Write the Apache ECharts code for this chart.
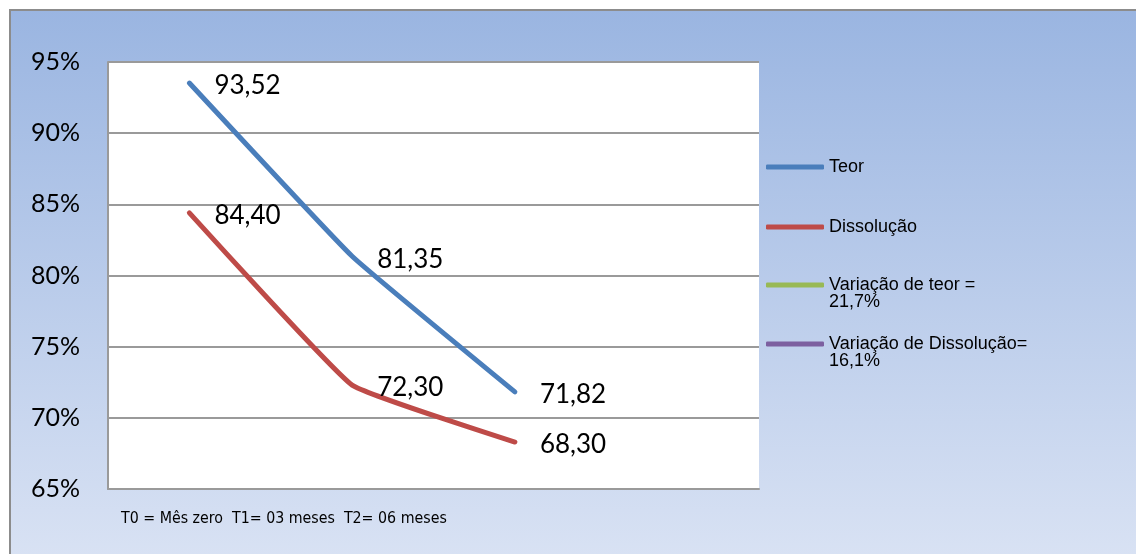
<!DOCTYPE html>
<html>
<head>
<meta charset="utf-8">
<script src="https://cdn.jsdelivr.net/npm/echarts@6/dist/echarts.min.js"></script>
<style>
  html, body { margin: 0; padding: 0; background: #fff; }
  #chart { width: 1136px; height: 554px; }
</style>
</head>
<body>
<div id="chart"></div>
<script>
// Stability study: content (Teor) and dissolution over time
const categories = ['T0', 'T1', 'T2', ''];
const teor = [93.52, 81.35, 71.82];
const dissolucao = [84.40, 72.30, 68.30];
const yTicks = { min: 65, max: 95, step: 5 };
const legendNames = ['Teor', 'Dissolução', 'Variação de teor =\n21,7%', 'Variação de Dissolução=\n16,1%'];
const timeNote = 'T0 = Mês zero  T1= 03 meses  T2= 06 meses';

const colors = ['#4A7EBB', '#BE4B48', '#98B954', '#7D60A0'];
const numFont = 'Lato, "Open Sans", sans-serif';

const chart = echarts.init(document.getElementById('chart'), null, { renderer: 'canvas' });

function fmt(v) { return v.toFixed(2).replace('.', ','); }

function lineSeries(name, values, color) {
  return {
    name: name,
    type: 'line',
    data: values,
    smooth: 0.1,
    symbol: 'circle',
    symbolSize: 2,
    showSymbol: true,
    itemStyle: { color: color },
    lineStyle: { color: color, width: 5, cap: 'round', join: 'round' },
    label: {
      show: true,
      position: 'right',
      distance: 24,
      offset: [0, 3],
      color: '#000',
      fontFamily: numFont,
      fontSize: 26,
      formatter: p => fmt(p.value)
    },
    emphasis: { disabled: true },
    animation: false
  };
}

// One legend block per entry; a leading blank line keeps the swatch
// level with the first line of two-line entries.
function legendAt(name, top, multiline) {
  return {
    data: [name],
    left: 766,
    top: top,
    padding: 0,
    orient: 'vertical',
    icon: 'roundRect',
    itemWidth: 58,
    itemHeight: 5,
    selectedMode: false,
    formatter: n => (multiline ? '\n' + n : n),
    textStyle: {
      color: '#000',
      fontFamily: '"Liberation Sans", Arial, sans-serif',
      fontSize: 18,
      lineHeight: 17
    }
  };
}

const option = {
  animation: false,
  color: colors,
  graphic: [{
    type: 'rect',
    z: -100,
    silent: true,
    shape: { x: 10, y: 10, width: 1140, height: 560 },
    style: {
      fill: new echarts.graphic.LinearGradient(0, 0, 0, 1, [
        { offset: 0, color: '#9AB5E1' },
        { offset: 1, color: '#DAE3F4' }
      ]),
      stroke: '#8C8C8C',
      lineWidth: 2
    }
  }],
  title: {
    text: timeNote,
    left: 116,
    top: 506,
    textStyle: {
      fontFamily: '"DejaVu Sans Condensed", "DejaVu Sans", sans-serif',
      fontWeight: 'normal',
      fontSize: 15.8,
      color: '#000'
    }
  },
  legend: [
    legendAt(legendNames[0], 158, false),
    legendAt(legendNames[1], 218, false),
    legendAt(legendNames[2], 259, true),
    legendAt(legendNames[3], 318, true)
  ],
  grid: {
    left: 108,
    top: 62,
    right: 377,
    bottom: 65,
    show: true,
    backgroundColor: '#fff',
    borderWidth: 0
  },
  xAxis: {
    type: 'category',
    data: categories,
    boundaryGap: true,
    axisLine: { show: true, lineStyle: { color: '#9A9A9A', width: 2 } },
    axisTick: { show: false },
    axisLabel: { show: false },
    splitLine: { show: false }
  },
  yAxis: {
    type: 'value',
    min: yTicks.min,
    max: yTicks.max,
    interval: yTicks.step,
    axisLine: { show: true, lineStyle: { color: '#9A9A9A', width: 2 } },
    axisTick: { show: false },
    axisLabel: {
      formatter: '{value}%',
      color: '#000',
      fontFamily: numFont,
      fontSize: 25,
      margin: 28
    },
    splitLine: { show: true, lineStyle: { color: '#9A9A9A', width: 2 } }
  },
  series: [
    lineSeries(legendNames[0], teor, colors[0]),
    lineSeries(legendNames[1], dissolucao, colors[1]),
    { name: legendNames[2], type: 'line', data: [], itemStyle: { color: colors[2] }, lineStyle: { color: colors[2], width: 5 } },
    { name: legendNames[3], type: 'line', data: [], itemStyle: { color: colors[3] }, lineStyle: { color: colors[3], width: 5 } }
  ]
};

chart.setOption(option);
</script>
</body>
</html>
